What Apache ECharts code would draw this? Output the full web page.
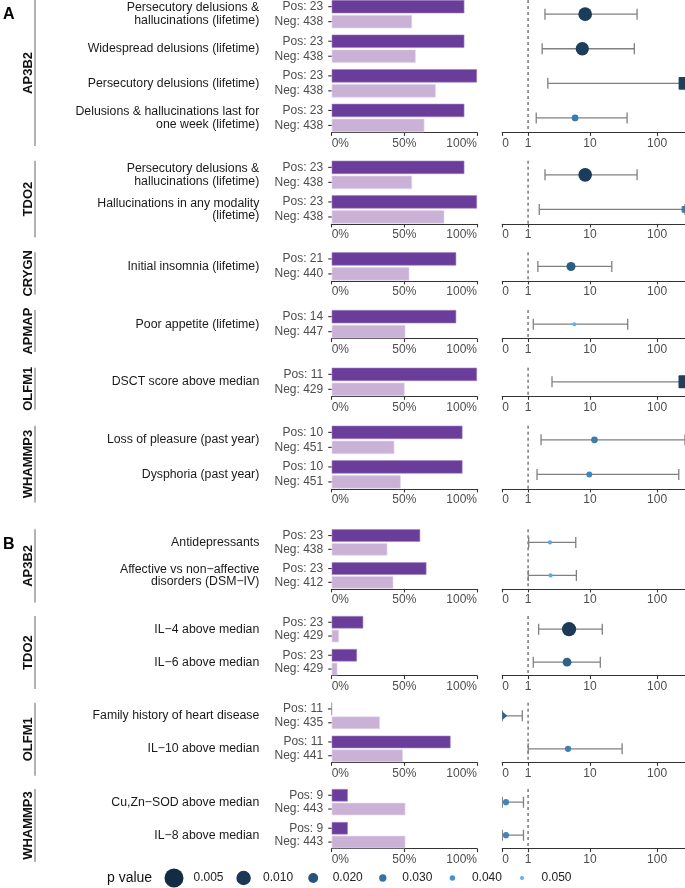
<!DOCTYPE html>
<html><head><meta charset="utf-8">
<script src="https://cdn.jsdelivr.net/npm/echarts@6/dist/echarts.min.js"></script>
<style>html,body{margin:0;padding:0;background:#fff}#c{width:685px;height:888px}</style>
</head><body><div id="c"></div>
<script>
// ---------------- data ----------------
const panelLetters = ['A', 'B'];
const groupNames = ['AP3B2', 'TDO2', 'CRYGN', 'APMAP', 'OLFM1', 'WHAMMP3', 'AP3B2', 'TDO2', 'OLFM1', 'WHAMMP3'];
const groupPanel = [0, 0, 0, 0, 0, 0, 1, 1, 1, 1];
const outcomes = [
  'Persecutory delusions &\nhallucinations (lifetime)',
  'Widespread delusions (lifetime)',
  'Persecutory delusions (lifetime)',
  'Delusions & hallucinations last for\none week (lifetime)',
  'Persecutory delusions &\nhallucinations (lifetime)',
  'Hallucinations in any modality\n(lifetime)',
  'Initial insomnia (lifetime)',
  'Poor appetite (lifetime)',
  'DSCT score above median',
  'Loss of pleasure (past year)',
  'Dysphoria (past year)',
  'Antidepressants',
  'Affective vs non\u2212affective\ndisorders (DSM\u2212IV)',
  'IL\u22124 above median',
  'IL\u22126 above median',
  'Family history of heart disease',
  'IL\u221210 above median',
  'Cu,Zn\u2212SOD above median',
  'IL\u22128 above median'
];
const outcomeGroup = [0, 0, 0, 0, 1, 1, 2, 3, 4, 5, 5, 6, 6, 7, 7, 8, 8, 9, 9];
const posN = [23, 23, 23, 23, 23, 23, 21, 14, 11, 10, 10, 23, 23, 23, 23, 11, 11, 9, 9];
const negN = [438, 438, 438, 438, 438, 438, 440, 447, 429, 451, 451, 438, 412, 429, 429, 435, 441, 443, 443];
const posPct = [91.3, 91.3, 100, 91.3, 91.3, 100, 85.7, 85.7, 100, 90, 90, 60.9, 65.2, 21.7, 17.4, 0, 81.8, 11.1, 11.1];
const negPct = [55.3, 57.8, 71.6, 63.8, 55.3, 77.5, 53.4, 50.7, 50.2, 43.1, 47.5, 38.3, 42.4, 5.0, 3.9, 33.2, 48.9, 50.7, 50.7];
const oddsRatio = [8.5, 7.7, Infinity, 6.0, 8.5, Infinity, 5.2, 5.85, Infinity, 11.7, 9.8, 2.46, 2.52, 4.86, 4.53, 0, 4.69, 0.127, 0.127];
const ciLow = [2.04, 1.83, 2.27, 1.44, 2.04, 1.63, 1.54, 1.27, 2.65, 1.75, 1.49, 1.03, 1.01, 1.59, 1.27, 0, 1.01, 0, 0];
const ciHigh = [50.4, 45.9, Infinity, 35.8, 50.4, Infinity, 21.2, 36.6, Infinity, Infinity, 210, 6.14, 6.27, 15.3, 14.3, 0.74, 30.2, 0.79, 0.79];
const pValue = [0.0113, 0.012, 0.013, 0.033, 0.0113, 0.033, 0.023, 0.05, 0.0126, 0.033, 0.037, 0.048, 0.048, 0.0105, 0.024, 0.025, 0.035, 0.036, 0.036];
const pctTicks = [0, 50, 100];
const orTicks = [0, 1, 10, 100];
const legendP = [0.005, 0.010, 0.020, 0.030, 0.040, 0.050];
const legendTitle = 'p value';

// ---------------- layout / style ----------------
const FF = "'Liberation Sans', Arial, Helvetica, sans-serif";
const groupTop = [0, 160.7, 252.3, 310, 367.7, 425.7, 529.3, 616, 702.7, 789];
const PITCH = [34.6, 33], BW = [13.3, 12.5], BGAP = [1.7, 1.3];
const BAR_L = 331.7, BAR_W = 145.3, FOR_L = 502.3, FOR_W = 182.7;
const OR_MAX = 260;
const T_MAX = Math.asinh(OR_MAX);
const letterY = [7, 537];

function tr(v) { return v === Infinity ? T_MAX : Math.asinh(v); }

// colour scale (CIELAB interpolation #132B43 -> #56B1F7), linear in p
function hex2rgb(h) { return [1, 3, 5].map(i => parseInt(h.substr(i, 2), 16)); }
function toLab(rgb) {
  const lin = rgb.map(c => { c /= 255; return c <= 0.04045 ? c / 12.92 : Math.pow((c + 0.055) / 1.055, 2.4); });
  const X = (0.4124 * lin[0] + 0.3576 * lin[1] + 0.1805 * lin[2]) / 0.95047;
  const Y = (0.2126 * lin[0] + 0.7152 * lin[1] + 0.0722 * lin[2]);
  const Z = (0.0193 * lin[0] + 0.1192 * lin[1] + 0.9505 * lin[2]) / 1.08883;
  const f = t => t > 0.008856 ? Math.cbrt(t) : 7.787 * t + 16 / 116;
  const fx = f(X), fy = f(Y), fz = f(Z);
  return [116 * fy - 16, 500 * (fx - fy), 200 * (fy - fz)];
}
function fromLab(lab) {
  const fy = (lab[0] + 16) / 116, fx = fy + lab[1] / 500, fz = fy - lab[2] / 200;
  const fi = t => t * t * t > 0.008856 ? t * t * t : (t - 16 / 116) / 7.787;
  const X = fi(fx) * 0.95047, Y = fi(fy), Z = fi(fz) * 1.08883;
  const r = 3.2406 * X - 1.5372 * Y - 0.4986 * Z;
  const g = -0.9689 * X + 1.8758 * Y + 0.0415 * Z;
  const b = 0.0557 * X - 0.2040 * Y + 1.0570 * Z;
  const s = c => { c = c <= 0.0031308 ? 12.92 * c : 1.055 * Math.pow(c, 1 / 2.4) - 0.055; return Math.max(0, Math.min(255, Math.round(c * 255))); };
  return 'rgb(' + s(r) + ',' + s(g) + ',' + s(b) + ')';
}
const LAB_LO = toLab(hex2rgb('#132B43')), LAB_HI = toLab(hex2rgb('#56B1F7'));
function pColor(p) {
  const t = Math.max(0, Math.min(1, (p - 0.005) / 0.045));
  return fromLab(LAB_LO.map((v, i) => v + (LAB_HI[i] - v) * t));
}
function pSize(p) { return Math.max(3.5, 4 + 15 * (-Math.log10(p) - 1.30103)); }

// ---------------- build option ----------------
const grids = [], xAxes = [], yAxes = [], series = [], graphics = [];

groupNames.forEach((gname, gi) => {
  const pi = groupPanel[gi];
  const rows = outcomes.map((o, i) => i).filter(i => outcomeGroup[i] === gi);
  const n = rows.length;
  const P = PITCH[pi], bw = BW[pi], gap = BGAP[pi];
  const pair = 2 * bw + gap, pad = (P - pair) / 2;
  const gTop = groupTop[gi] - pad, h = n * P;
  const axisY = groupTop[gi] + (n - 1) * P + pair + 0.3;
  const off = axisY - (gTop + h);
  const bi = 2 * gi, fi = 2 * gi + 1;

  grids.push({ left: BAR_L, top: gTop, width: BAR_W, height: h, containLabel: false, outerBoundsMode: 'none' });
  grids.push({ left: FOR_L, top: gTop, width: FOR_W, height: h, containLabel: false, outerBoundsMode: 'none' });

  xAxes.push({
    gridIndex: bi, type: 'value', min: pctTicks[0], max: pctTicks[pctTicks.length - 1], interval: pctTicks[1] - pctTicks[0], offset: off,
    axisLine: { show: true, onZero: false, lineStyle: { color: '#333', width: 1.2 } },
    axisTick: { show: true, length: 3.5, lineStyle: { color: '#333', width: 1.1 } },
    axisLabel: { formatter: '{value}%', color: '#4d4d4d', fontSize: 12, fontFamily: FF, margin: 5, alignMinLabel: 'left', alignMaxLabel: 'right' },
    splitLine: { show: false }
  });
  xAxes.push({
    gridIndex: fi, type: 'value', min: 0, max: T_MAX, offset: off,
    axisLine: { show: true, onZero: false, lineStyle: { color: '#333', width: 1.2 } },
    axisTick: { show: true, length: 3.5, customValues: orTicks.map(Math.asinh), lineStyle: { color: '#333', width: 1.1 } },
    axisLabel: { customValues: orTicks.map(Math.asinh), formatter: v => String(Math.round(Math.sinh(v))), color: '#4d4d4d', fontSize: 12, fontFamily: FF, margin: 5, alignMinLabel: 'left' },
    splitLine: { show: false }
  });
  yAxes.push({
    gridIndex: bi, type: 'category', inverse: true, data: rows.map(i => outcomes[i]),
    axisLine: { show: false }, axisTick: { show: false }, splitLine: { show: false },
    axisLabel: { margin: BAR_L - 259.3, color: '#1a1a1a', fontSize: 12.3, lineHeight: 12.6, align: 'right', fontFamily: FF, interval: 0 }
  });
  yAxes.push({ gridIndex: fi, type: 'category', inverse: true, data: rows.map(i => outcomes[i]), show: false });

  const richLab = {
    l: { fontSize: 12, color: '#4d4d4d', fontFamily: FF },
    g: { width: 5 },
    t: { width: 3.5, height: 1.1, backgroundColor: '#333' }
  };
  series.push({
    type: 'bar', xAxisIndex: bi, yAxisIndex: bi, barWidth: bw, barGap: (gap / bw * 100) + '%',
    data: rows.map(i => posPct[i]), silent: true, animation: false,
    itemStyle: { color: '#6a3d9a', borderColor: '#9f84c4', borderWidth: 0.6 },
    label: { show: true, position: 'left', distance: 0, formatter: p => '{l|Pos: ' + posN[rows[p.dataIndex]] + '}{g|}{t|}', rich: richLab }
  });
  series.push({
    type: 'bar', xAxisIndex: bi, yAxisIndex: bi, barWidth: bw,
    data: rows.map(i => negPct[i]), silent: true, animation: false,
    itemStyle: { color: '#cab2d6', borderColor: '#e2d6ec', borderWidth: 0.6 },
    label: { show: true, position: 'left', distance: 0, formatter: p => '{l|Neg: ' + negN[rows[p.dataIndex]] + '}{g|}{t|}', rich: richLab }
  });

  series.push({
    type: 'custom', xAxisIndex: fi, yAxisIndex: fi, clip: true, silent: true, animation: false,
    data: rows.map((i, k) => [tr(oddsRatio[i]), k, tr(ciLow[i]), tr(ciHigh[i]), pValue[i],
      oddsRatio[i] === Infinity ? 1 : (oddsRatio[i] === 0 ? 2 : 0)]),
    renderItem: (params, api) => {
      const cs = params.coordSys;
      const k = api.value(1);
      const y = api.coord([0, k])[1];
      const xe = api.coord([api.value(0), k])[0];
      const xl = api.coord([api.value(2), k])[0];
      const xh = api.coord([api.value(3), k])[0];
      const p = api.value(4), shape = api.value(5);
      const d = pSize(p), col = pColor(p);
      const ch = [];
      if (params.dataIndex === 0) {
        const x1 = api.coord([Math.asinh(1), 0])[0];
        ch.push({ type: 'line', shape: { x1: x1, y1: cs.y + pad, x2: x1, y2: axisY }, style: { stroke: '#222', lineWidth: 0.9, lineDash: [3, 3] } });
      }
      const es = { stroke: '#808080', lineWidth: 1.3 };
      ch.push({ type: 'line', shape: { x1: xl, y1: y, x2: xh, y2: y }, style: es });
      ch.push({ type: 'line', shape: { x1: xl, y1: y - 5.5, x2: xl, y2: y + 5.5 }, style: es });
      ch.push({ type: 'line', shape: { x1: xh, y1: y - 5.5, x2: xh, y2: y + 5.5 }, style: es });
      if (shape === 1) {
        ch.push({ type: 'rect', shape: { x: xe - d / 2, y: y - d / 2, width: d, height: d, r: 1 }, style: { fill: col } });
      } else if (shape === 2) {
        ch.push({ type: 'polygon', shape: { points: [[xe, y - d / 2], [xe, y + d / 2], [xe + d * 0.6, y]] }, style: { fill: col } });
      } else {
        ch.push({ type: 'circle', shape: { cx: xe, cy: y, r: d / 2 }, style: { fill: col } });
      }
      return { type: 'group', children: ch };
    }
  });

  // group strip
  const sTop = groupTop[gi], sBot = axisY + 13.5;
  graphics.push({ type: 'line', shape: { x1: 35, y1: sTop, x2: 35, y2: sBot }, style: { stroke: '#7f7f7f', lineWidth: 1.2 }, silent: true });
  graphics.push({ type: 'text', x: 28, y: (sTop + sBot) / 2, rotation: Math.PI / 2,
    style: { text: gname, fill: '#111', font: 'bold 13px ' + FF, align: 'center', verticalAlign: 'middle' }, silent: true });
});

panelLetters.forEach((L, i) => {
  graphics.push({ type: 'text', x: 3, y: letterY[i], style: { text: L, fill: '#000', font: 'bold 16px ' + FF, align: 'left', verticalAlign: 'top' }, silent: true });
});

// legend
const LEG_Y = 878;
graphics.push({ type: 'text', x: 107, y: LEG_Y, style: { text: legendTitle, fill: '#111', font: '14px ' + FF, align: 'left', verticalAlign: 'middle' }, silent: true });
legendP.forEach((p, i) => {
  const cx = 174 + i * 69.6;
  graphics.push({ type: 'circle', shape: { cx: cx, cy: LEG_Y, r: pSize(p) / 2 }, style: { fill: pColor(p) }, silent: true });
  graphics.push({ type: 'text', x: cx + 19.5, y: LEG_Y, style: { text: p.toFixed(3), fill: '#222', font: '12px ' + FF, align: 'left', verticalAlign: 'middle' }, silent: true });
});

const chart = echarts.init(document.getElementById('c'), null, { renderer: 'canvas' });
chart.setOption({
  animation: false,
  backgroundColor: '#fff',
  textStyle: { fontFamily: FF },
  grid: grids, xAxis: xAxes, yAxis: yAxes, series: series,
  graphic: graphics
});
</script>
</body></html>
